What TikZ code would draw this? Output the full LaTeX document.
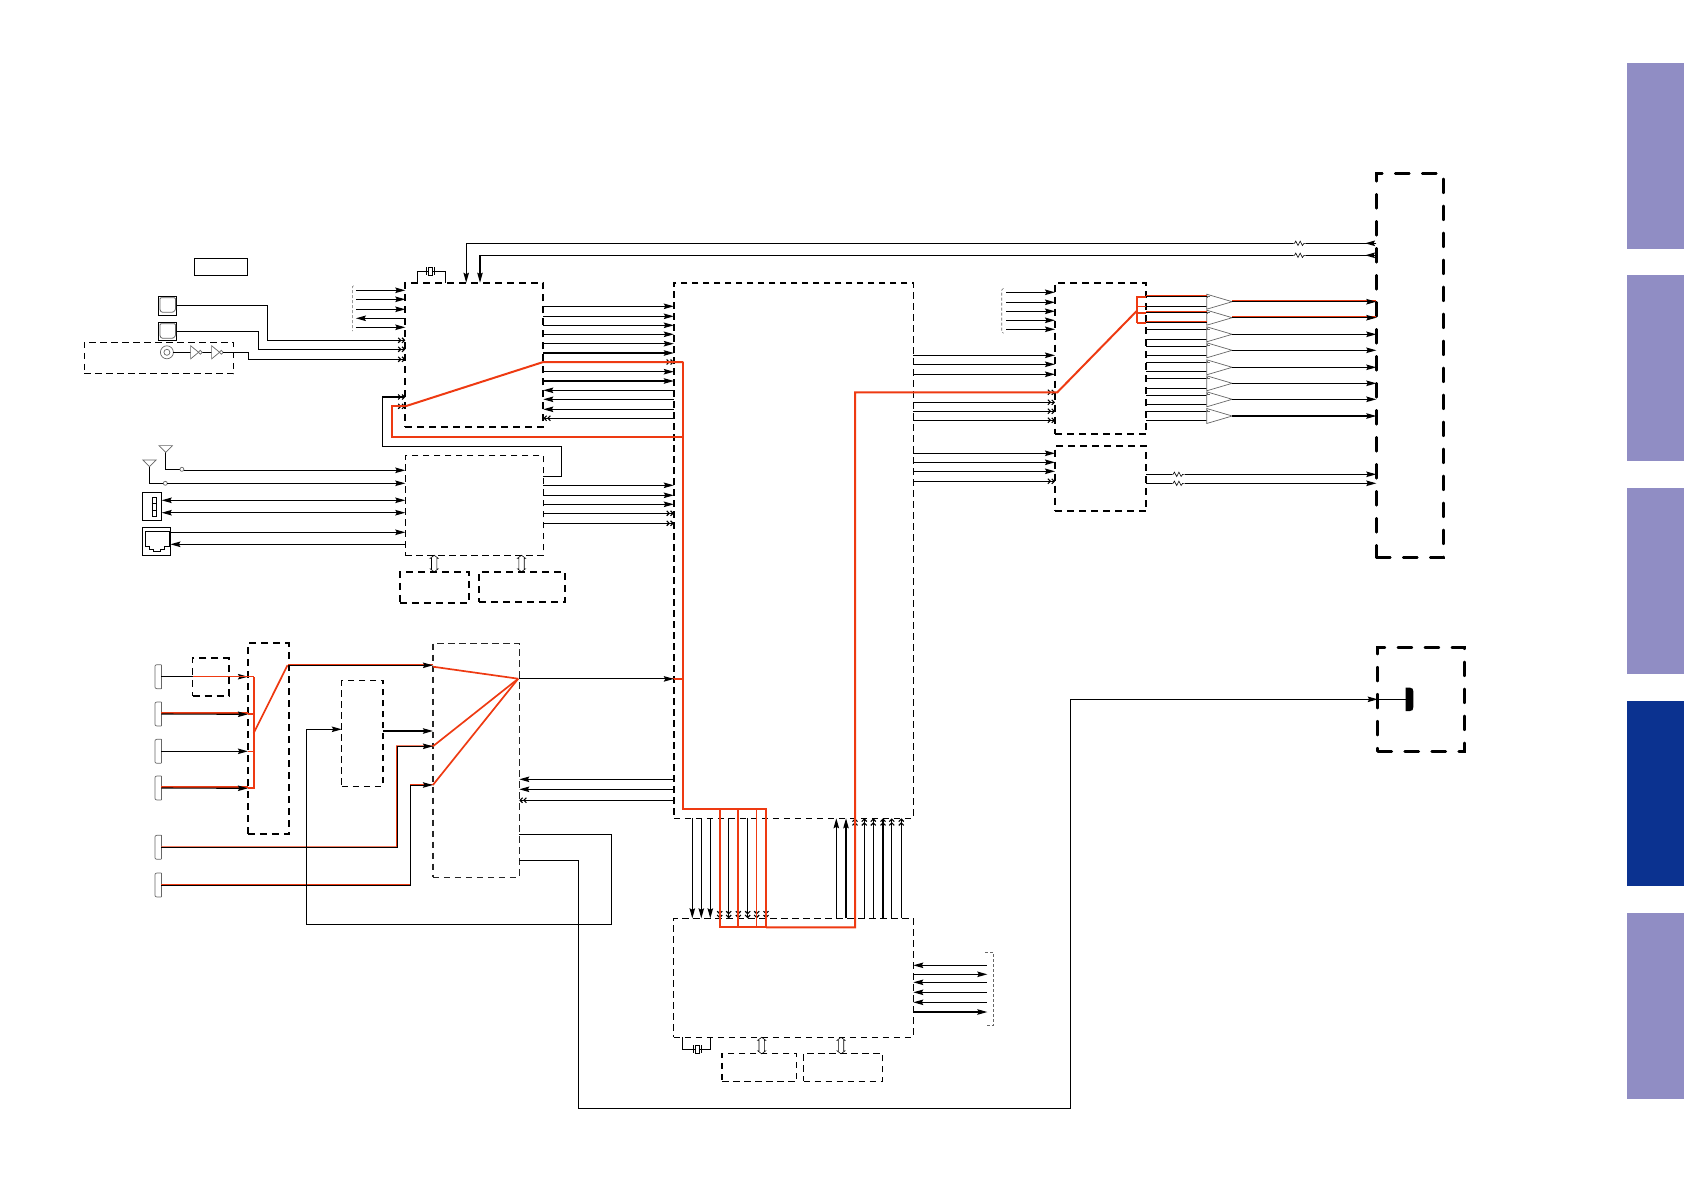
\documentclass[tikz,border=0pt]{standalone}
\usetikzlibrary{arrows.meta}
\definecolor{tablight}{HTML}{908DC4}
\definecolor{tabdark}{HTML}{0B3290}
\definecolor{redline}{HTML}{EE3A12}
\definecolor{lgray}{HTML}{666666}
\newcommand{\Bx}[6]{%
 \pgfmathsetmacro\bw{#5-#3}\pgfmathsetmacro\bh{#6-#4}\pgfmathsetmacro\bcx{(#3+#5)/2}\pgfmathsetmacro\bcy{(#4+#6)/2}%
 \node[#1,minimum width=\bw pt,minimum height=\bh pt] (#2) at (\bcx,\bcy) {};}
\tikzset{
 x=1pt,y=-1pt,
 base/.style={draw=black,rectangle,inner sep=0pt,outer sep=0pt},
 solidbox/.style={base,line width=1pt},
 dashthin/.style={base,line width=1.1pt,dash pattern=on 6.5pt off 4.5pt},
 dashmid/.style={base,line width=1.6pt,dash pattern=on 6.5pt off 4.5pt},
 dashwide/.style={base,line width=1.8pt,dash pattern=on 7pt off 5pt},
 dashheavy/.style={base,line width=2.6pt,line cap=round,dash pattern=on 14pt off 13pt},
 tab/.style={rectangle,inner sep=0pt,outer sep=0pt,fill=tablight},
 wire/.style={line width=1.1pt,black},
 arr/.style={wire,-{Stealth[length=10pt,width=5.5pt,inset=1.5pt]}},
 larr/.style={wire,{Stealth[length=10pt,width=5.5pt,inset=1.5pt]}-},
 both/.style={wire,{Stealth[length=10pt,width=5.5pt,inset=1.5pt]}-{Stealth[length=10pt,width=5.5pt,inset=1.5pt]}},
 dbl/.style={wire,-{Straight Barb[length=2.5pt,width=5pt]Straight Barb[length=2.5pt,width=5pt]}},
 ldbl/.style={wire,{Straight Barb[length=2.5pt,width=5pt]Straight Barb[length=2.5pt,width=5pt]}-},
 red/.style={line width=2pt,redline,line join=miter},
 redthin/.style={line width=1.1pt,redline},
 brk/.style={line width=0.6pt,lgray,densely dashed},
 jackpic/.pic={\draw[line width=0.7pt,lgray] (0,-12) -- (-4.5,-12) .. controls (-6,-12) and (-6.5,-11) .. (-6.5,-10) -- (-6.5,10) .. controls (-6.5,11) and (-6,12) .. (-4.5,12) -- (0,12);\draw[line width=0.7pt,lgray] (0,-12)--(0,12);},
 respic/.pic={\fill[white] (0,-2) rectangle (13,2);\draw[line width=0.6pt,black] (0,0)--(1.5,0)--(2.7,-2.2)--(5,2.2)--(7.2,-2.2)--(9.4,2.2)--(11,0)--(13,0);},
 ampic/.pic={\draw[line width=0.7pt,lgray,fill=white] (0,-7.5)--(25.5,0)--(0,7.5)--cycle;\draw[line width=0.5pt,lgray] (1,-5)--(3,-5) (1,-6)--(1,-4);},
 buspic/.pic={\draw[line width=0.6pt,black] (0,0)--(4,3)--(2.7,3)--(2.7,13.5)--(4,13.5)--(0,16.5)--(-4,13.5)--(-2.7,13.5)--(-2.7,3)--(-4,3)--cycle;},
 xtalpic/.pic={\draw[line width=0.8pt,black,fill=white] (-2.2,-4)rectangle(2.2,4);\draw[line width=0.9pt] (-4,-4)--(-4,4) (4,-4)--(4,4);},
 invpic/.pic={\draw[line width=0.7pt,lgray,fill=white] (0,-6.6)--(8,0)--(0,6.6)--cycle;\draw[line width=0.7pt,lgray,fill=white] (9.7,0) circle (1.9);},
 antpic/.pic={\draw[line width=0.7pt,lgray] (-6.7,-6.7)--(6.7,-6.7)--(0,0)--cycle;},
}
\begin{document}
\begin{tikzpicture}[x=1pt,y=-1pt]
\useasboundingbox (0,0) rectangle (1684,1191);
% side tabs
\Bx{tab}{tab1}{1627}{63}{1684}{249}
\Bx{tab}{tab2}{1627}{275}{1684}{461}
\Bx{tab}{tab3}{1627}{488}{1684}{674}
\Bx{tab,fill=tabdark}{tab4}{1627}{701}{1684}{886}
\Bx{tab}{tab5}{1627}{913}{1684}{1099}
% boxes
\Bx{solidbox}{lbl}{194.6}{258.3}{247.5}{275.3}
\Bx{dashwide}{A}{405.3}{282.7}{543.3}{427.3}
\Bx{dashthin,line width=1.4pt}{B}{405.3}{455.3}{543.3}{555.3}
\Bx{dashwide}{D}{399.8}{571.7}{468.6}{603}
\Bx{dashwide}{E}{479.3}{571.7}{565}{602}
\Bx{dashmid}{C}{673.8}{282.7}{913.3}{818.3}
\Bx{dashthin}{J}{673.8}{918.3}{913.3}{1037.3}
\Bx{dashthin}{K}{722}{1053.3}{796.7}{1081.3}
\Bx{dashthin}{L}{803.7}{1053.3}{882.7}{1081.3}
\Bx{dashthin}{S}{84.2}{342.3}{233.7}{373.7}
\Bx{dashwide}{M}{1055}{282.7}{1146.3}{434.3}
\Bx{dashwide}{N}{1055}{445.7}{1146.3}{511.3}
\Bx{dashheavy}{P}{1376.3}{173.3}{1443.7}{557.5}
\Bx{dashheavy}{Q}{1377.7}{647.3}{1464.3}{751.3}
\Bx{dashwide}{T}{192.5}{658.3}{228.6}{696}
\Bx{dashwide}{F}{247.9}{643.3}{288.6}{834}
\Bx{dashmid,line width=1.3pt}{G}{341.8}{680.3}{382.9}{786.3}
\Bx{dashmid,line width=1.3pt,draw=black!85}{H}{432.9}{643.3}{519.3}{877.3}
% connector blocks
\Bx{solidbox}{O1}{158}{296.3}{176.8}{315.7}
\Bx{solidbox}{O2}{158}{322.3}{176.8}{340.7}
\Bx{solidbox}{U}{142.4}{492.3}{161.7}{520.7}
\Bx{solidbox}{R}{142.4}{527.3}{170.4}{555.7}
\draw[line width=0.8pt,lgray,rounded corners=1pt] (O1.north west)++(2,1.5)--++(15.6,0)--++(0,12)--++(-2.5,2.5)--++(-11.5,0)--++(-1.6,-2)--cycle;
\draw[line width=0.8pt,lgray,rounded corners=1pt] (O2.north west)++(2,1.5)--++(15.6,0)--++(0,12)--++(-2.5,2.5)--++(-11.5,0)--++(-1.6,-2)--cycle;
\draw[line width=0.8pt] (151.9,497.3) rectangle (156.6,516.7) (151.9,503.8)--(156.6,503.8) (151.9,510.2)--(156.6,510.2);
\draw[line width=0.8pt] (145.1,531.7)--(168.9,531.7)--(168.9,546)--(164,546)--(164,549)--(160,549)--(160,551.7)--(153.5,551.7)--(153.5,549)--(149.5,549)--(149.5,546)--(145.1,546)--cycle;
% RCA and inverters
\coordinate (rca) at (166.9,352.3);
\draw[line width=0.7pt,lgray] (rca) circle (6.5) (rca) circle (3);
\coordinate (inv1) at (190.6,352.3);
\coordinate (inv2) at (211.6,352.3);
\draw[line width=0.8pt] (173.4,352.3)--(inv1) (202,352.3)--(inv2);
\path (inv1) pic {invpic};
\path (inv2) pic {invpic};
\draw[dbl] (223,352.3)--(248.3,352.3)--(248.3,359.3)--(A.west |- 0,359.3);
\draw[dbl] (O1.east |- 0,305.7)--(267.3,305.7)--(267.3,340.3)--(A.west |- 0,340.3);
\draw[dbl] (O2.east |- 0,331.3)--(258.6,331.3)--(258.6,349.3)--(A.west |- 0,349.3);
% left of A
\coordinate (aL) at (355.9,290.3);
\foreach \yy in {290.3,299.3,309.3,327.3} \draw[arr] (aL |- 0,\yy)--(A.west |- 0,\yy);
\draw[larr] (aL |- 0,318.3)--(A.west |- 0,318.3);
\draw[brk] (353.5,285.7)--(352.3,287)--(352.3,331);
% crystal A
\coordinate (x1) at (430.6,271.3);
\draw[wire] (417.6,282.7)--(417.6,271.3)--(x1)--(445.2,271.3)--(445.2,282.7);
\path (x1) pic {xtalpic};
% top long lines
\coordinate (r1) at (1293,243.3);
\coordinate (r2) at (1293,255.3);
\draw[arr] (P.west |- 0,243.3)--(466.2,243.3)--(A.north -| 466.2,0);
\draw[arr] (P.west |- 0,255.3)--(480,255.3)--(A.north -| 480,0);
\draw[arr] (P.west |- 0,243.3)--(1365,243.3);
\draw[arr] (P.west |- 0,255.3)--(1365,255.3);
\path (r1) pic {respic};
\path (r2) pic {respic};
% A <-> C
\foreach \yy in {306.3,316.3,325.3,334.3,343.7,353,371.7,381} \draw[arr] (A.east |- 0,\yy)--(C.west |- 0,\yy);
\draw[dbl] (A.east |- 0,362)--(C.west |- 0,362);
\foreach \yy in {390.3,399.3,409.3} \draw[larr] (A.east |- 0,\yy)--(C.west |- 0,\yy);
\draw[ldbl] (A.east |- 0,418.3)--(C.west |- 0,418.3);
% A - B loop
\draw[dbl] (B.east |- 0,476.3)--(561.5,476.3)--(561.5,446.3)--(382.4,446.3)--(382.4,397)--(A.west |- 0,397);
\draw[dbl] (391.5,406.3)--(A.west |- 0,406.3);
% antennas
\coordinate (an1) at (165.7,452.3);
\coordinate (an2) at (149.5,466.7);
\draw[wire] (an1)--(165.7,469.3)--(179.9,469.3);
\draw[wire] (an2)--(149.5,483.3)--(163.3,483.3);
\path (an1) pic {antpic};
\path (an2) pic {antpic};
\draw[line width=0.7pt,lgray] (181.9,469.3) circle (2) (165.3,483.3) circle (2);
\draw[arr] (183.9,470.3)--(B.west |- 0,470.3);
\draw[arr] (167.3,483.3)--(B.west |- 0,483.3);
\draw[both] (U.east |- 0,500.3)--(B.west |- 0,500.3);
\draw[both] (U.east |- 0,512.7)--(B.west |- 0,512.7);
\draw[arr] (R.east |- 0,532.3)--(B.west |- 0,532.3);
\draw[larr] (R.east |- 0,544.3)--(B.west |- 0,544.3);
% B -> C
\foreach \yy in {485.3,495.3,504.3} \draw[arr] (B.east |- 0,\yy)--(C.west |- 0,\yy);
\foreach \yy in {513.3,523.3} \draw[dbl] (B.east |- 0,\yy)--(C.west |- 0,\yy);
\coordinate (bus1) at (434.2,555.3);
\coordinate (bus2) at (521.5,555.3);
\coordinate (bus3) at (761.7,1037.3);
\coordinate (bus4) at (841,1037.3);
\foreach \b in {bus1,bus2,bus3,bus4} \path (\b) pic {buspic};
% C <-> J
\foreach \xx in {692.3,701.3,710.3} \draw[arr] (\xx,818.3)--(\xx,918.3);
\foreach \xx in {719.7,728.7,738.3,747.7,756.7,766} \draw[dbl] (\xx,818.3)--(\xx,918.3);
\foreach \xx in {836.3,846} \draw[arr] (\xx,918.3)--(\xx,818.3);
\foreach \xx in {855,864.3,873.3,883,891.7,901.3} \draw[dbl] (\xx,918.3)--(\xx,818.3);
% J right
\coordinate (jR) at (987.3,965);
\foreach \yy in {965.3,982.3,992.3,1002.3} \draw[larr] (J.east |- 0,\yy)--(jR |- 0,\yy);
\foreach \yy in {974.3,1012} \draw[arr] (J.east |- 0,\yy)--(jR |- 0,\yy);
\draw[brk] (985,952.3)--(993.3,952.3)--(993.3,1025.3)--(985,1025.3);
% crystal J
\coordinate (x2) at (697.2,1049.3);
\draw[wire] (682.3,1037.3)--(682.3,1049.3)--(x2)--(710.7,1049.3)--(710.7,1037.3);
\path (x2) pic {xtalpic};
% M / N inputs
\coordinate (mL) at (1006,292.3);
\foreach \yy in {292.3,302.3,311.3,320.3,329.3} \draw[arr] (mL |- 0,\yy)--(M.west |- 0,\yy);
\draw[brk] (1003.5,288.3)--(1001.7,290)--(1001.7,331.5)--(1003.5,333.3);
\foreach \yy in {355.3,364.3,374.3} \draw[arr] (C.east |- 0,\yy)--(M.west |- 0,\yy);
\foreach \yy in {392.3,402.3,411.3,420.3} \draw[dbl] (C.east |- 0,\yy)--(M.west |- 0,\yy);
\foreach \yy in {453.3,462.3,471.3} \draw[arr] (C.east |- 0,\yy)--(N.west |- 0,\yy);
\draw[dbl] (C.east |- 0,481.3)--(N.west |- 0,481.3);
% amps
\foreach \n/\ya/\yb/\yt in {1/296.7/306.7/301.7,2/312.7/322.7/317.7,3/329.3/339.3/334.3,4/346.3/355.3/350.3,5/362.3/371.3/367.3,6/378.3/388.3/383.3,7/395.3/404.7/399.3,8/411.3/420.3/416}{
 \coordinate (amp\n) at (1206.7,\yt);
 \draw[wire] (M.east |- 0,\ya)--(amp\n |- 0,\ya);
 \draw[wire] (M.east |- 0,\yb)--(amp\n |- 0,\yb);
 \path (amp\n) pic {ampic};
}
% red under amp outputs
\draw[redline,line width=1.6pt] (1232,301.1)--(P.west |- 0,301.1) (1232,317.1)--(P.west |- 0,317.1);
\foreach \n/\yt in {1/301.7,2/317.7,3/334.3,4/350.3,5/367.3,6/383.3,7/399.3,8/416}
 \draw[arr] (1232.2,\yt)--(P.west |- 0,\yt);
% N to P
\foreach \yy in {474.3,483.3} {
 \draw[arr] (N.east |- 0,\yy)--(P.west |- 0,\yy);
 \path (1171.7,\yy) pic {respic};
}
% Lower left
\coordinate (J1) at (161.4,676.7);
\coordinate (J2) at (161.4,714);
\coordinate (J3) at (161.4,751.3);
\coordinate (J4) at (161.4,788);
\coordinate (J5) at (161.4,847.3);
\coordinate (J6) at (161.4,885);
\foreach \j in {J1,J2,J3,J4,J5,J6} \path (\j) pic {jackpic};
% red under black (shared runs)
\draw[redline,line width=1.6pt] (J2) ++(0,-0.8) -- (F.west |- 0,713.2);
\draw[redline,line width=1.6pt] (J4) ++(0,-0.8) -- (F.west |- 0,787.2);
\draw[redline,line width=1.7pt] (287.5,664.5)--(H.west |- 0,664.5);
\draw[redline,line width=1.2pt] (H.east |- 0,678.3)--(C.west |- 0,678.3);
\draw[redline,line width=1.1pt] (J5) ++(0,-0.4) -- (396.7,846.9)--(396.7,745.9)--(H.west |- 0,745.9);
\draw[redline,line width=1.1pt] (J6) ++(0,-0.4) -- (410.3,884.6)--(410.3,784.6)--(H.west |- 0,784.6);
\draw[redline,line width=1.5pt] (M.east |- 0,296.2)--(amp1 |- 0,296.2) (M.east |- 0,312.2)--(amp2 |- 0,312.2) (M.east |- 0,322.2)--(amp2 |- 0,322.2);
\foreach \yy/\aa in {296.7/1,312.7/2,322.7/2} \draw[wire,line width=0.8pt] (1146.3,\yy)--(amp\aa |- 0,\yy);
% black lower-left wires
\draw[arr] (J1)--(F.west |- 0,676.7);
\draw[arr] (J2)--(F.west |- 0,714.3);
\draw[arr] (J3)--(F.west |- 0,751.3);
\draw[arr] (J4)--(F.west |- 0,788.3);
\draw[arr] (287.5,665.3)--(H.west |- 0,665.3);
\draw[arr] (H.east |- 0,678.9)--(C.west |- 0,678.9);
\draw[arr,line width=1pt] (J5)--(397.1,847.3)--(397.1,746.3)--(H.west |- 0,746.3);
\draw[arr,line width=1pt] (J6)--(410.7,885)--(410.7,785)--(H.west |- 0,785);
\draw[arr] (G.east |- 0,731)--(H.west |- 0,731);
\foreach \yy in {779.3,789.3} \draw[larr] (H.east |- 0,\yy)--(C.west |- 0,\yy);
\draw[ldbl] (H.east |- 0,800.3)--(C.west |- 0,800.3);
\draw[arr] (H.east |- 0,834.7)--(611.4,834.7)--(611.4,924.3)--(306.8,924.3)--(306.8,729.3)--(G.west |- 0,729.3);
\draw[arr] (H.east |- 0,860.3)--(578.2,860.3)--(578.2,1108.4)--(1070.8,1108.4)--(1070.8,699.3)--(Q.west |- 0,699.3);
% Q jack
\draw[wire] (Q.west |- 0,699.3)--(1406,699.3);
\fill[black] (1405.7,687.7) -- (1410,687.7) .. controls (1412.5,687.7) and (1413.3,689) .. (1413.3,691.5) -- (1413.3,707) .. controls (1413.3,709.7) and (1412.5,711) .. (1410,711) -- (1405.7,711) -- cycle;
% red on top
\draw[redthin] (T.west |- 0,676.7)--(T.east |- 0,676.7)--(253.6,676.7);
\draw[redthin] (F.west |- 0,751.3)--(253.6,751.3);
\draw[red] (F.west |- 0,714)--(253.6,714);
\draw[red] (F.west |- 0,788)--(253.6,788)--(253.6,676.7);
\draw[red,line width=1.7pt] (253.6,733.3)--(287.5,665.3);
\draw[red,line width=1.7pt] (H.west |- 0,666.7)--(518.2,678.7);
\draw[red,line width=1.7pt] (H.west |- 0,746.3)--(518.2,678.7);
\draw[red,line width=1.7pt] (H.west |- 0,785)--(518.2,678.7);
\draw[red] (C.west |- 0,678.7)--(683.3,678.7);
\draw[red] (A.west |- 0,406.3)--(A.east |- 0,362)--(683.3,362);
\draw[red] (A.west |- 0,406.3)--(391.5,406.3)--(391.5,436.7)--(683.3,436.7);
\draw[red] (683.3,362)--(683.3,809)--(766,809)--(766,927.3)--(720,927.3)--(720,809);
\draw[red] (737.7,809)--(737.7,927.3);
\draw[redthin] (756.7,809)--(756.7,927.3);
\draw[red] (766,927.3)--(855,927.3)--(855,392.3)--(1057.3,392.3)--(1136.7,311);
\draw[red] (1136.7,322.7)--(1136.7,296.7)--(1146.3,296.7);
\draw[red] (1136.7,312.7)--(1146.3,312.7) (1136.7,322.7)--(1146.3,322.7);
\draw[redthin] (1136.7,306.7)--(1146.3,306.7);
\end{tikzpicture}
\end{document}
